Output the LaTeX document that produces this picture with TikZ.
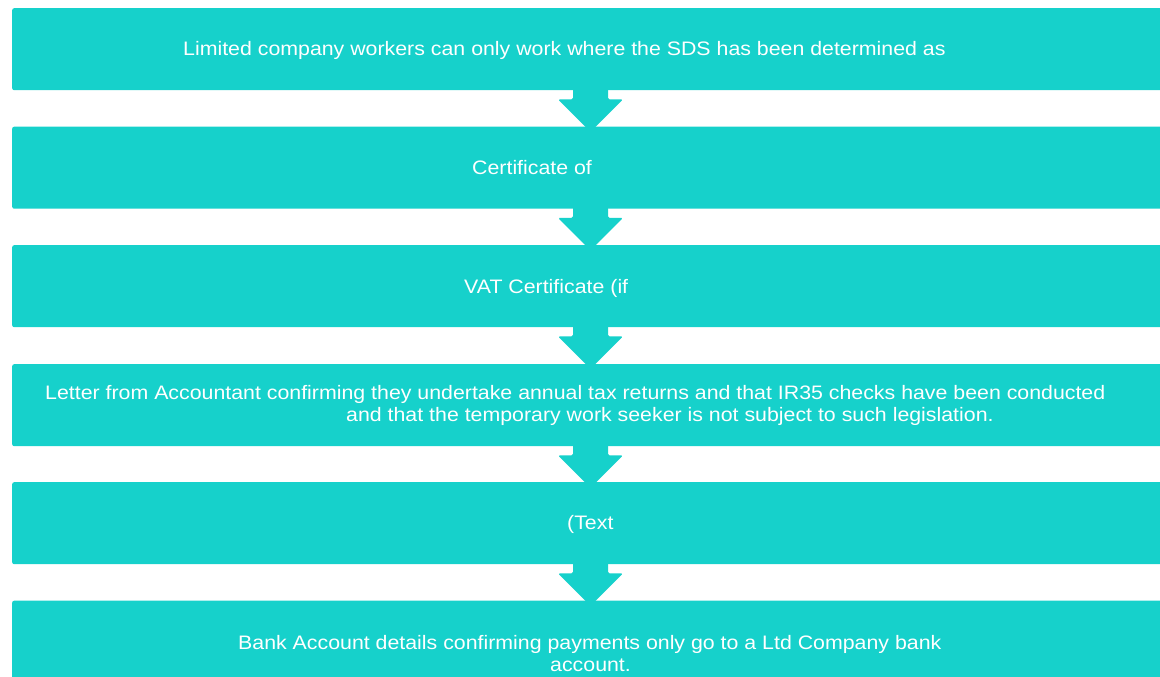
\documentclass[tikz,border=0pt]{standalone}
\usepackage{fontspec}
\setmainfont[FakeStretch=1.094]{Liberation Sans}
\usetikzlibrary{calc}
\definecolor{tealc}{RGB}{22,209,203}
\tikzset{
  box/.style={fill=tealc, rounded corners=2pt, minimum width=1160pt, minimum height=82pt, inner sep=0pt, anchor=north west, draw=none},
  txt/.style={text=white, font=\fontsize{19.5}{22}\selectfont, anchor=base west, inner sep=0pt},
  chev/.style={fill=tealc, rounded corners=1.5pt}
}
\newcommand{\chevron}[1]{%
  \fill[chev] ($(#1.south -| ax)+(-17.5,-2)$) -- ++(0,11) -- ++(-15,0) -- ++(32.5,32.5) -- ++(32.5,-32.5) -- ++(-15,0) -- ++(0,-11) -- cycle;}
\begin{document}
\begin{tikzpicture}[x=1pt,y=-1pt]
\useasboundingbox (0,0) rectangle (1160,677);
\clip (0,0) rectangle (1160,677);
\coordinate (ax) at (590.5,0);
\node[box] (b1) at (12,8) {};
\node[box] (b2) at (12,126.5) {};
\node[box] (b3) at (12,245) {};
\node[box] (b4) at (12,364) {};
\node[box] (b5) at (12,482) {};
\node[box] (b6) at (12,600.5) {};
\chevron{b1}
\chevron{b2}
\chevron{b3}
\chevron{b4}
\chevron{b5}
\node[txt] (t1) at (183,56) {Limited company workers can only work where the SDS has been determined as};
\node[txt] (t2) at (472,174.5) {Certificate of};
\node[txt] (t3) at (464,293) {VAT Certificate (if};
\node[txt] (t4a) at (45,399.5) {Letter from Accountant confirming they undertake annual tax returns and that IR35 checks have been conducted};
\node[txt] (t4b) at (346,421.5) {and that the temporary work seeker is not subject to such legislation.};
\node[txt] (t5) at (567,529) {(Text};
\node[txt] (t6a) at (238,649.5) {Bank Account details confirming payments only go to a Ltd Company bank};
\node[txt] (t6b) at (550,671.5) {account.};
\end{tikzpicture}
\end{document}
